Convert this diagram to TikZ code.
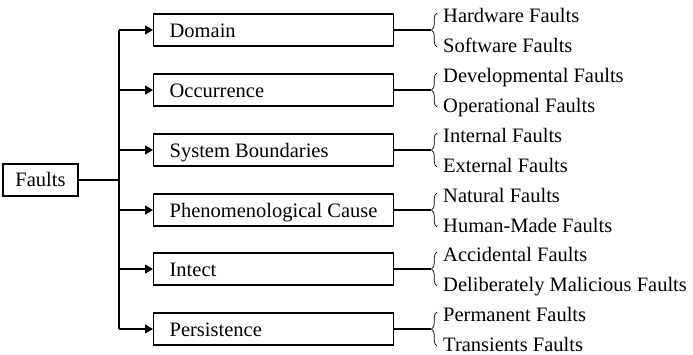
\documentclass[tikz,border=0pt]{standalone}
\usepackage{fontspec}
\setmainfont{Liberation Serif}
\usetikzlibrary{arrows.meta,decorations.pathreplacing}
\begin{document}
\begin{tikzpicture}[x=1pt,y=-1pt,
  every node/.style={font=\fontsize{20.5}{24}\selectfont},
  catbox/.style={draw,line width=1.3pt,minimum height=32pt,minimum width=240pt,
    inner xsep=16pt,inner ysep=0pt,text height=14pt,text depth=0pt,anchor=west},
  rootbox/.style={draw,line width=1.3pt,minimum width=75pt,minimum height=32pt,
    inner sep=0pt,text height=13.5pt,text depth=0pt},
  link/.style={line width=1.3pt},
  feed/.style={line width=1.3pt,-{Triangle[length=8pt,width=9pt]}},
  curly/.style={line width=0.7pt,decorate,decoration={brace,amplitude=5.5pt}},
  leaf/.style={anchor=base west,inner sep=0pt}]
\useasboundingbox (0,0) rectangle (693,354);

% root
\node[rootbox] (faults) at (40.5,180) {Faults};
\coordinate (trunk) at (119,180);
\draw[link] (faults.east) -- (trunk);

% categories with their two kinds of faults
\foreach \name/\y/\txt/\first/\second in {
  dom/30/Domain/Hardware Faults/Software Faults,
  occ/90/Occurrence/Developmental Faults/Operational Faults,
  sys/150/System Boundaries/Internal Faults/External Faults,
  phe/210/Phenomenological Cause/Natural Faults/Human-Made Faults,
  int/269/Intect/Accidental Faults/Deliberately Malicious Faults,
  per/329/Persistence/Permanent Faults/Transients Faults}{
  \node[catbox] (\name) at (153,\y) {\makebox[208pt][l]{\txt}};
  \coordinate (\name-split) at (119,\y);
  \draw[feed] (\name-split) -- (\name.west);
  \coordinate (\name-tip) at (431,\y);
  \draw[link] (\name.east) -- (\name-tip);
  \draw[curly] (437,\y+17) -- (437,\y-17);
  \node[leaf] (\name-a) at (443,\y-8) {\first};
  \node[leaf] (\name-b) at (443,\y+22) {\second};
}

% vertical trunk joining all categories
\draw[link] (dom-split) -- (per-split);
\end{tikzpicture}
\end{document}
